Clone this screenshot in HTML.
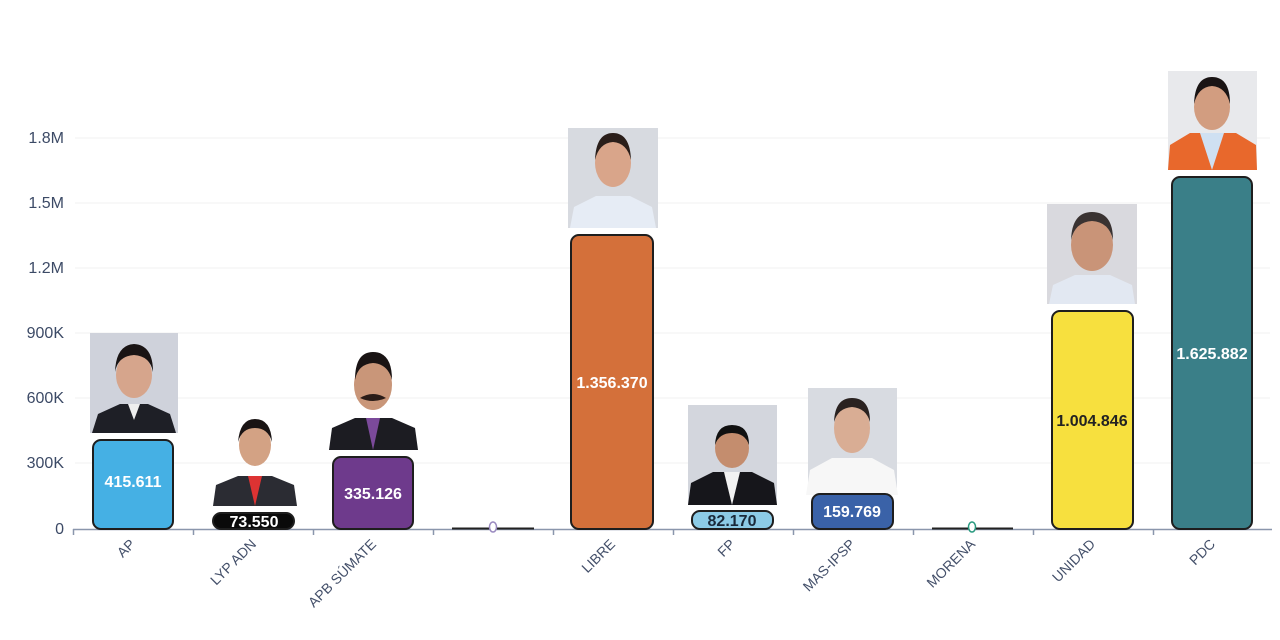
<!DOCTYPE html>
<html><head><meta charset="utf-8"><style>
html,body{margin:0;padding:0;background:#fff;}
svg{display:block;font-family:"Liberation Sans",sans-serif;}
</style></head><body>
<svg width="1280" height="640" viewBox="0 0 1280 640" xmlns="http://www.w3.org/2000/svg">
<g stroke="#f0f0f2" stroke-width="1">
<line x1="75" y1="138" x2="1270" y2="138"/>
<line x1="75" y1="203" x2="1270" y2="203"/>
<line x1="75" y1="268" x2="1270" y2="268"/>
<line x1="75" y1="333" x2="1270" y2="333"/>
<line x1="75" y1="398" x2="1270" y2="398"/>
<line x1="75" y1="463" x2="1270" y2="463"/>
</g>
<g fill="#3c4a66" font-size="16" text-anchor="end">
<text x="64" y="143">1.8M</text>
<text x="64" y="208">1.5M</text>
<text x="64" y="273">1.2M</text>
<text x="64" y="338">900K</text>
<text x="64" y="403">600K</text>
<text x="64" y="468">300K</text>
<text x="64" y="534">0</text>
</g>
<line x1="73" y1="529.5" x2="1272" y2="529.5" stroke="#8a96ac" stroke-width="1.5"/>
<g stroke="#8a96ac" stroke-width="1.5">
<line x1="73.5" y1="529" x2="73.5" y2="535"/><line x1="193.5" y1="529" x2="193.5" y2="535"/>
<line x1="313.5" y1="529" x2="313.5" y2="535"/><line x1="433.5" y1="529" x2="433.5" y2="535"/>
<line x1="553.5" y1="529" x2="553.5" y2="535"/><line x1="673.5" y1="529" x2="673.5" y2="535"/>
<line x1="793.5" y1="529" x2="793.5" y2="535"/><line x1="913.5" y1="529" x2="913.5" y2="535"/>
<line x1="1033.5" y1="529" x2="1033.5" y2="535"/><line x1="1153.5" y1="529" x2="1153.5" y2="535"/>
</g>
<g fill="#44506a" font-size="14" text-anchor="end">
<text transform="translate(136,545) rotate(-45)">AP</text>
<text transform="translate(257,545) rotate(-45)">LYP ADN</text>
<text transform="translate(377,545) rotate(-45)">APB SÚMATE</text>
<text transform="translate(616,545) rotate(-45)">LIBRE</text>
<text transform="translate(736,545) rotate(-45)">FP</text>
<text transform="translate(856,545) rotate(-45)">MAS-IPSP</text>
<text transform="translate(976,545) rotate(-45)">MORENA</text>
<text transform="translate(1096,545) rotate(-45)">UNIDAD</text>
<text transform="translate(1216,545) rotate(-45)">PDC</text>
</g>
<g>
<rect x="90" y="333" width="88" height="100" fill="#cfd2db"/>
<path d="M92 433 L98 414 L120 404 L148 404 L170 414 L176 433Z" fill="#1e1f26"/>
<path d="M128 404 L134 420 L140 404Z" fill="#eee"/>
<ellipse cx="134" cy="375" rx="18" ry="23" fill="#d6a58c"/><path d="M115 372 Q116 345 134 344 Q153 345 153 372 Q150 356 134 355 Q118 356 115 372Z" fill="#1a1414"/>
</g>
<g>
<path d="M213 506 L216 485 L238 476 L272 476 L294 485 L297 506Z" fill="#2b2c33"/>
<path d="M248 476 L255 506 L262 476Z" fill="#d33"/>
<ellipse cx="255" cy="445" rx="16" ry="21" fill="#d3a284"/><path d="M238 442 Q240 419 255 419 Q271 419 272 442 Q268 428 255 428 Q242 428 238 442Z" fill="#1a1414"/>
</g>
<g>
<path d="M329 450 L332 428 L355 418 L392 418 L415 428 L418 450Z" fill="#1c1c22"/>
<path d="M366 418 L373 450 L380 418Z" fill="#7b4a9a"/>
<ellipse cx="373" cy="385" rx="19" ry="25" fill="#c99679"/><path d="M355 380 Q355 352 373 352 Q392 352 392 380 Q388 364 373 363 Q358 364 355 380Z" fill="#1a1414"/><path d="M360 398 Q373 390 386 398 Q373 404 360 398Z" fill="#2a1c18"/>
</g>
<g>
<rect x="568" y="128" width="90" height="100" fill="#d7dae0"/>
<path d="M570 228 L574 207 L596 196 L630 196 L652 207 L656 228Z" fill="#e6ecf5"/>
<ellipse cx="613" cy="163" rx="18" ry="24" fill="#d9a58a"/><path d="M595 160 Q596 133 613 133 Q630 133 631 160 Q627 143 613 142 Q599 143 595 160Z" fill="#2a1e1a"/>
</g>
<g>
<rect x="688" y="405" width="89" height="100" fill="#d3d6dd"/>
<path d="M688 505 L691 483 L713 472 L752 472 L774 483 L777 505Z" fill="#16161b"/>
<path d="M724 472 L732 505 L740 472Z" fill="#f2f2f2"/>
<ellipse cx="732" cy="448" rx="17" ry="20" fill="#c48d6e"/><path d="M715 445 Q716 425 732 425 Q749 425 749 445 Q745 433 732 433 Q719 433 715 445Z" fill="#111"/>
</g>
<g>
<rect x="808" y="388" width="89" height="100" fill="#d8dbe1"/>
<path d="M806 495 L810 470 L832 458 L872 458 L894 470 L898 495Z" fill="#f7f7f7"/>
<ellipse cx="852" cy="428" rx="18" ry="25" fill="#d9ad94"/><path d="M834 422 Q835 398 852 398 Q870 398 870 422 Q866 408 852 407 Q838 408 834 422Z" fill="#2a2220"/>
</g>
<g>
<rect x="1047" y="204" width="90" height="100" fill="#d9d9de"/>
<path d="M1049 304 L1053 285 L1075 275 L1110 275 L1132 285 L1135 304Z" fill="#e2e8f2"/>
<ellipse cx="1092" cy="245" rx="21" ry="26" fill="#c99478"/><path d="M1071 240 Q1072 212 1092 212 Q1113 212 1113 240 Q1109 222 1092 221 Q1075 222 1071 240Z" fill="#3a3332"/>
</g>
<g>
<rect x="1168" y="71" width="89" height="99" fill="#e8e9ec"/>
<path d="M1168 170 L1170 145 L1190 133 L1236 133 L1256 145 L1257 170Z" fill="#e8682c"/>
<path d="M1200 133 L1212 170 L1224 133Z" fill="#cfe0f2"/>
<ellipse cx="1212" cy="107" rx="18" ry="23" fill="#d29d80"/><path d="M1194 104 Q1195 77 1212 77 Q1230 77 1230 104 Q1226 87 1212 86 Q1198 87 1194 104Z" fill="#1a1414"/>
</g>
<g stroke="#1e1e1e" stroke-width="2">
<rect x="93" y="440" width="80" height="89" rx="8" fill="#45b0e4"/>
<rect x="213" y="513" width="81" height="16" rx="8" fill="#0a0a0a"/>
<rect x="333" y="457" width="80" height="72" rx="8" fill="#6e3a8c"/>
<rect x="571" y="235" width="82" height="294" rx="8" fill="#d4703a"/>
<rect x="692" y="511" width="81" height="18" rx="8" fill="#8ccbe6"/>
<rect x="812" y="494" width="81" height="35" rx="8" fill="#3a62a8"/>
<rect x="1052" y="311" width="81" height="218" rx="8" fill="#f7e03e"/>
<rect x="1172" y="177" width="80" height="352" rx="8" fill="#3a7f88"/>
</g>
<line x1="452" y1="528.5" x2="534" y2="528.5" stroke="#222" stroke-width="2"/>
<ellipse cx="493" cy="527" rx="3.5" ry="5" fill="#fff" stroke="#9a8ac0" stroke-width="1.5"/>
<line x1="932" y1="528.5" x2="1013" y2="528.5" stroke="#222" stroke-width="2"/>
<ellipse cx="972" cy="527" rx="3.5" ry="5" fill="#fff" stroke="#2a9a80" stroke-width="1.5"/>
<g font-size="16" font-weight="bold" text-anchor="middle">
<text x="133" y="487" fill="#fff">415.611</text>
<text x="254" y="527" fill="#fff">73.550</text>
<text x="373" y="499" fill="#fff">335.126</text>
<text x="612" y="388" fill="#fff">1.356.370</text>
<text x="732" y="526" fill="#1a2a3a">82.170</text>
<text x="852" y="517" fill="#fff">159.769</text>
<text x="1092" y="426" fill="#222">1.004.846</text>
<text x="1212" y="359" fill="#fff">1.625.882</text>
</g>
</svg>
</body></html>
